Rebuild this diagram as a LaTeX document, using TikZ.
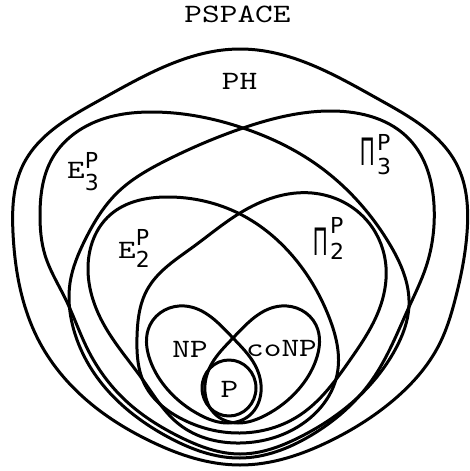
\documentclass[tikz,border=0pt]{standalone}
\usepackage{graphicx}
\usepackage{fontspec}
\usetikzlibrary{hobby}
\newfontfamily\cour[FakeStretch=1.27]{lmmono10-regular.otf}
\newfontfamily\supf{DejaVu Sans}
\newfontfamily\pif{Liberation Sans}
\newcommand\sx[1]{{\supf\fontsize{22}{22}\selectfont #1}}
\newcommand\pig{\scalebox{0.5}[1]{\pif\fontsize{40}{40}\selectfont Π}}
\begin{document}
\begin{tikzpicture}[x=1pt,y=-1pt,
  setline/.style={line width=3pt, line join=round},
  lbl/.style={inner sep=0pt, font=\cour\fontsize{26.5}{26.5}\selectfont}]
\useasboundingbox (0,0) rectangle (469,471);
\fill[white] (0,0) rectangle (469,471);
% PH
\draw[setline] plot[closed hobby] coordinates {(240,49) (380,100) (457,165) (467,233) (455,300) (440,343) (390,403) (330,441) (240,465) (150,441) (90,403) (40,343) (23,300) (13,233) (23,165) (100,100)};
% Sigma3
\draw[setline] plot[closed hobby] coordinates {(153,112) (243,128) (313,162) (389,243) (409,305) (395,350) (355,400) (300,437) (240,454) (180,437) (125,400) (88,350) (66,300) (45,255) (40,215) (53,157) (100,120)};
% Pi3
\draw[setline] plot[closed hobby] coordinates {(333,111) (410,140) (434,205) (426,267) (409,307) (372,380) (310,436) (240,458) (168,437) (99,380) (73,327) (70,283) (85,240) (117,193) (167,160) (243,128)};
% Sigma2
\draw[setline] plot[closed hobby] coordinates {(167,197) (240,214) (296,260) (329,317) (337,375) (305,422) (240,443) (180,425) (143,380) (103,323) (88,267) (110,215)};
% Pi2
\draw[setline] plot[closed hobby] coordinates {(312,193) (369,223) (386,267) (379,310) (350,360) (300,415) (240,433) (180,418) (145,385) (137,337) (147,290) (193,247) (240,213)};
% NP
\draw[setline] plot[closed hobby] coordinates {(185,306) (233,338) (255,365) (261,392) (250,415) (228,423) (200,415) (168,390) (150,360) (150,325)};
% coNP
\draw[setline] plot[closed hobby] coordinates {(281,306) (316,325) (316,360) (298,390) (266,415) (238,423) (216,415) (205,392) (211,365) (233,338)};
% P
\draw[setline] (229,388) ellipse [x radius=27, y radius=28];
% labels
\node[lbl, anchor=base] (pspace) at (237.5,22) {PSPACE};
\node[lbl, anchor=base] (ph) at (239.5,89) {PH};
\node[lbl, anchor=base] (np) at (190,357) {NP};
\node[lbl, anchor=base] (conp) at (281.5,356) {coNP};
\node[lbl, anchor=base] (p) at (229.5,397) {P};
\node[lbl, anchor=base west] (sigma3) at (67,178) {E\rlap{\raisebox{10pt}{\sx{P}}}\raisebox{-12pt}{\sx{3}}};
\node[lbl, anchor=base west] (sigma2) at (118,258) {E\rlap{\raisebox{13pt}{\sx{P}}}\raisebox{-9pt}{\sx{2}}};
\node[lbl, anchor=base west] (pi3) at (360.4,165) {\pig\hspace{2pt}\rlap{\raisebox{15pt}{\sx{P}}}\raisebox{-9pt}{\sx{3}}};
\node[lbl, anchor=base west] (pi2) at (313.4,255) {\pig\hspace{2pt}\rlap{\raisebox{22pt}{\sx{P}}}\raisebox{-4pt}{\sx{2}}};
\end{tikzpicture}
\end{document}
